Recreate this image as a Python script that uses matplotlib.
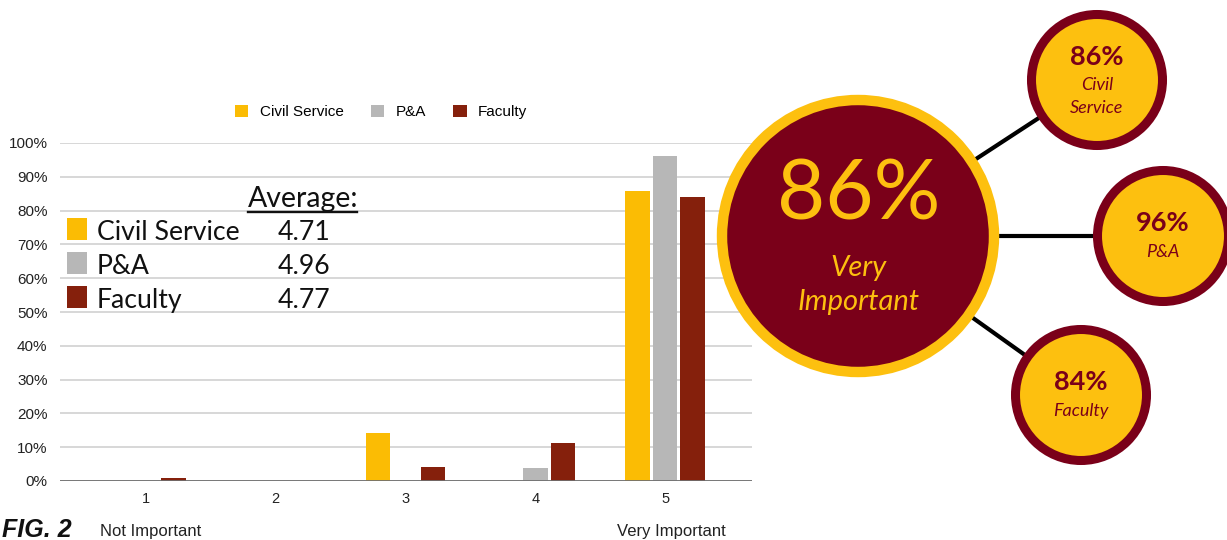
import matplotlib
matplotlib.use("Agg")
import matplotlib.pyplot as plt
from matplotlib.patches import Patch, Circle, Rectangle
import numpy as np

# Survey data: share of respondents choosing each importance rating (1-5)
ratings = ["1", "2", "3", "4", "5"]
groups = ["Civil Service", "P&A", "Faculty"]
civil_service = [0.0, 0.0, 14.3, 0.0, 85.7]
p_and_a = [0.0, 0.0, 0.0, 3.7, 96.3]
faculty = [0.9, 0.0, 4.0, 11.1, 84.0]
averages = [4.71, 4.96, 4.77]
overall_very_important = 86
yticks = [0, 10, 20, 30, 40, 50, 60, 70, 80, 90, 100]

bar_colors = ["#fbbc04", "#b7b7b7", "#85200c"]
maroon = "#7a0019"
gold = "#fdc00f"

W, H = 1227, 540
fig = plt.figure(figsize=(W / 100, H / 100), dpi=100)

def px_rect(x0, y0, x1, y1):
    return [x0 / W, 1 - y1 / H, (x1 - x0) / W, (y1 - y0) / H]

# ---- bar chart ----
ax = fig.add_axes(px_rect(60, 143, 752, 481))
series = [civil_service, p_and_a, faculty]
x = np.arange(1, len(ratings) + 1)
bw, off = 0.189, 0.213
for i, (vals, col) in enumerate(zip(series, bar_colors)):
    ax.bar(x + (i - 1) * off, vals, width=bw, color=col, zorder=3)

ax.set_xlim(0.337, 5.67)
ax.set_ylim(0, 100)
ax.set_yticks(yticks)
ax.set_yticklabels([f"{t}%" for t in yticks], fontsize=11, family="Liberation Sans",
                   color="#222222")
ax.set_xticks(x)
ax.set_xticklabels(ratings, fontsize=10.5, family="Liberation Sans", color="#222222")
ax.tick_params(axis="both", length=0)
ax.tick_params(axis="y", pad=9)
ax.tick_params(axis="x", pad=8)
for s in ax.spines.values():
    s.set_visible(False)
ax.grid(axis="y", color="#d4d4d4", linewidth=1.3, zorder=0)
ax.axhline(0, color="#6f6f6f", linewidth=2, zorder=4)
ax.set_facecolor("none")

handles = [Patch(facecolor=c, edgecolor="none") for c in bar_colors]
fig.legend(handles, groups, loc="center", bbox_to_anchor=(381 / W, 1 - 112 / H),
           ncol=3, frameon=False, prop={"family": "Liberation Sans", "size": 11},
           handlelength=0.9, handleheight=0.9, handletextpad=0.75, columnspacing=1.75)

# ---- overlay in pixel coordinates ----
ov = fig.add_axes([0, 0, 1, 1])
ov.set_xlim(0, W)
ov.set_ylim(H, 0)
ov.axis("off")
ov.patch.set_alpha(0)

# Figure caption and scale anchors
ov.text(2, 537, "FIG. 2", fontsize=18, family="Liberation Sans", weight="bold",
        style="italic", va="baseline", ha="left", color="#111111")
ov.text(100, 536, "Not Important", fontsize=12, family="Liberation Sans",
        va="baseline", ha="left", color="#222222")
ov.text(726, 536, "Very Important", fontsize=12, family="Liberation Sans",
        va="baseline", ha="right", color="#222222")

# Averages block
ov.text(248, 207, "Average:", fontsize=20.5, family="Lato", va="baseline", ha="left",
        color="#111111")
ov.plot([248, 357], [212, 212], color="#111111", lw=1.7)
for i, (g, a, c) in enumerate(zip(groups, averages, bar_colors)):
    yb = 240 + i * 34
    ov.add_patch(Rectangle((67, yb - 22), 19.5, 22, facecolor=c, edgecolor="none"))
    ov.text(97, yb, g, fontsize=19.2, family="Lato", va="baseline", ha="left",
            color="#111111")
    ov.text(278, yb, f"{a:.2f}", fontsize=19.2, family="Lato", va="baseline",
            ha="left", color="#111111")

# Bubble diagram of "Very Important" (rating 5) shares
big_c = (858, 236)
small_c = [(1097, 80), (1163, 236), (1081, 395)]
top_vals = [civil_service[-1], p_and_a[-1], faculty[-1]]
small_labels = ["Civil\nService", "P&A", "Faculty"]

for (sx, sy) in small_c:
    ov.plot([big_c[0], sx], [big_c[1], sy], color="black", lw=3, zorder=1,
            solid_capstyle="butt")

ov.add_patch(Circle(big_c, 136, facecolor=maroon, edgecolor=gold, lw=7.5, zorder=2))
ov.text(big_c[0] + 1, 196, f"{overall_very_important}%", fontsize=60, family="Lato",
        color=gold, ha="center", va="center", zorder=5)
ov.text(big_c[0] + 1, 268, "Very", fontsize=21, family="Lato", style="italic",
        color=gold, ha="center", va="center", zorder=5)
ov.text(big_c[0] + 1, 302, "Important", fontsize=21, family="Lato", style="italic",
        color=gold, ha="center", va="center", zorder=5)

for (sx, sy), v, lab in zip(small_c, top_vals, small_labels):
    ov.add_patch(Circle((sx, sy), 65.5, facecolor=gold, edgecolor=maroon, lw=6.5,
                        zorder=2))
    lines = lab.split("\n")
    pct_y = sy - (23 if len(lines) == 2 else 13)
    ov.text(sx, pct_y, f"{round(v)}%", fontsize=19.5, family="Lato", weight="bold",
            color=maroon, ha="center", va="center", zorder=5)
    for j, line in enumerate(lines):
        ly = pct_y + 28 + j * 23 if len(lines) == 2 else pct_y + 29
        ov.text(sx, ly, line, fontsize=13, family="Lato", style="italic",
                color=maroon, ha="center", va="center", zorder=5)

fig.savefig("out.png", dpi=100)
